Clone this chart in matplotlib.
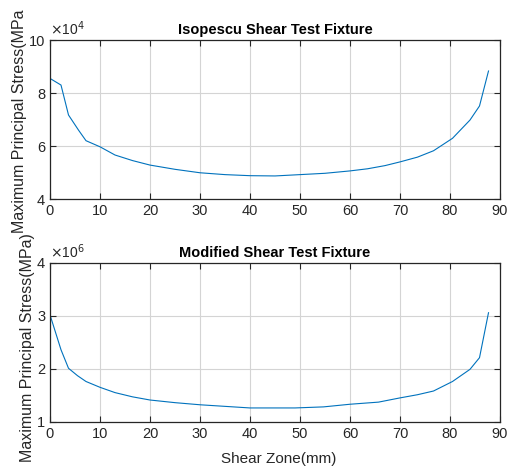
import numpy as np
import matplotlib
matplotlib.use("Agg")
from matplotlib import pyplot as plt

plt.rcParams['font.family'] = ['Liberation Sans', 'DejaVu Sans']

# data (x in mm, y in units of the axis exponent)
x_iso = [0, 2.2, 3.7, 5.7, 7.2, 10, 13, 16.5, 20, 25, 30, 35, 40, 45, 50, 55, 60,
         63.5, 67, 70, 73.5, 76.7, 80.5, 84, 85.9, 87.7]
y_iso = [8.55, 8.30, 7.17, 6.6, 6.2, 5.97, 5.66, 5.45, 5.28, 5.12, 4.99, 4.92, 4.88,
         4.87, 4.92, 4.97, 5.06, 5.14, 5.26, 5.40, 5.58, 5.82, 6.29, 6.98, 7.51, 8.83]
x_mod = [0, 2.2, 3.7, 5.5, 7.2, 10, 13, 16.5, 20, 25, 30, 35, 40, 45, 49, 54.7, 60,
         65.7, 70, 73.5, 76.7, 80.5, 84, 85.9, 87.7]
y_mod = [3.02, 2.36, 2.01, 1.87, 1.76, 1.65, 1.55, 1.47, 1.41, 1.36, 1.32, 1.29, 1.26,
         1.26, 1.26, 1.28, 1.33, 1.37, 1.45, 1.51, 1.58, 1.76, 1.99, 2.21, 3.06]

titles = ["Isopescu Shear Test Fixture", "Modified Shear Test Fixture"]
exps = [4, 6]
yticks = [[4, 6, 8, 10], [1, 2, 3, 4]]
xticks = list(range(0, 91, 10))
# the top label is drawn without its closing bracket in the original
ylabs = ["Maximum Principal Stress(MPa", "Maximum Principal Stress(MPa)"]
xlab = "Shear Zone(mm)"

fig = plt.figure(figsize=(5.07, 4.66), dpi=100)
ax1 = fig.add_axes([50/507, 1-199/466, 450/507, 159/466])
ax2 = fig.add_axes([50/507, 1-421.7/466, 450/507, 158.7/466])

edge = '#262626'
for i, (ax, x, y) in enumerate([(ax1, x_iso, y_iso), (ax2, x_mod, y_mod)]):
    ax.plot(x, y, color='#0072BD', lw=0.8)
    ax.set_xlim(0, 90)
    ax.set_ylim(yticks[i][0], yticks[i][-1])
    ax.set_xticks(xticks)
    ax.set_yticks(yticks[i])
    ax.grid(True, color='#d4d4d4', lw=0.8)
    ax.tick_params(direction='in', length=4, width=0.8, colors=edge, labelsize=10.5,
                   top=True, right=True, labelcolor='#262626')
    for s in ax.spines.values():
        s.set_color(edge)
        s.set_linewidth(0.9)
    ax.set_title(titles[i], fontsize=10.5, fontweight='bold', pad=4)
    ax.text(0, 1.01, r"$\times$10$^{%d}$" % exps[i], transform=ax.transAxes,
            fontsize=10, color='#262626', va='bottom', ha='left')
    ax.set_ylabel(ylabs[i], fontsize=11.5, color='#262626')

ax1.yaxis.set_label_coords(-0.052, 0.49)
ax2.yaxis.set_label_coords(-0.034, 0.467)
ax2.set_xlabel(xlab, fontsize=11, color='#262626')
ax2.xaxis.set_label_coords(0.509, -0.19)

plt.savefig("out.png", dpi=100)
